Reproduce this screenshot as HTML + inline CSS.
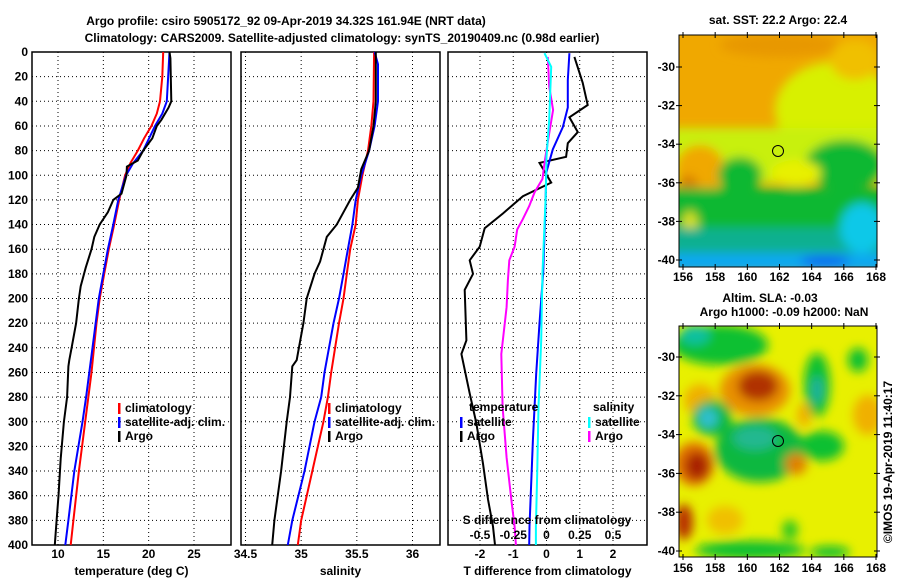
<!DOCTYPE html>
<html><head><meta charset="utf-8">
<style>
html,body{margin:0;padding:0;background:#fff;}
svg text{font-family:"Liberation Sans",sans-serif;font-weight:bold;font-size:12px;fill:#000;}
</style></head>
<body>
<svg id="chart" width="900" height="580" viewBox="0 0 900 580" xmlns="http://www.w3.org/2000/svg">
<defs>
<filter id="blur1" x="-20%" y="-20%" width="140%" height="140%"><feGaussianBlur stdDeviation="5"/></filter>
<filter id="blur2" x="-20%" y="-20%" width="140%" height="140%"><feGaussianBlur stdDeviation="5"/></filter>
<clipPath id="clipM1"><rect x="679" y="35" width="198" height="232"/></clipPath>
<clipPath id="clipM2"><rect x="679" y="326" width="198" height="231"/></clipPath>
</defs>
<text x="286" y="25" text-anchor="middle" font-size="13">Argo profile: csiro 5905172_92 09-Apr-2019 34.32S 161.94E (NRT data)</text>
<text x="342" y="42" text-anchor="middle" font-size="13">Climatology: CARS2009. Satellite-adjusted climatology: synTS_20190409.nc (0.98d earlier)</text>
<g id="plots"></g>
<g id="maps">
  <g clip-path="url(#clipM1)">
    <rect x="679" y="35" width="198" height="232" fill="#f0a800"/>
    <g filter="url(#blur1)">
      <ellipse cx="780" cy="45" rx="60" ry="12" fill="#e89800"/>
      <ellipse cx="835" cy="110" rx="60" ry="48" fill="#d8f000"/>
      <ellipse cx="855" cy="60" rx="25" ry="20" fill="#f0c000"/>
      <rect x="670" y="128" width="220" height="55" fill="#c8f010"/>
      <ellipse cx="700" cy="170" rx="25" ry="25" fill="#f0a800"/>
      <ellipse cx="688" cy="185" rx="10" ry="10" fill="#d88000"/>
      <ellipse cx="740" cy="175" rx="22" ry="18" fill="#10b830"/>
      <ellipse cx="845" cy="165" rx="40" ry="25" fill="#10b830"/>
      <rect x="670" y="188" width="220" height="45" fill="#10b830"/>
      <ellipse cx="796" cy="173" rx="25" ry="13" fill="#e8f000"/>
      <ellipse cx="690" cy="225" rx="8" ry="14" fill="#d8e020"/>
      <rect x="670" y="228" width="220" height="26" fill="#10b090"/>
      <ellipse cx="862" cy="228" rx="22" ry="25" fill="#10c8e8"/>
      <rect x="670" y="253" width="220" height="20" fill="#10a8f0"/>
      <ellipse cx="825" cy="261" rx="25" ry="5" fill="#1060f0"/>
    </g>
    <circle cx="778" cy="151" r="5.5" fill="none" stroke="#000" stroke-width="1"/>
  </g>
  <rect x="679" y="35" width="198" height="232" fill="none" stroke="#000"/>
  <text x="778" y="24" text-anchor="middle">sat. SST: 22.2 Argo: 22.4</text>
  <g clip-path="url(#clipM2)">
    <rect x="679" y="326" width="198" height="231" fill="#e8f000"/>
    <g filter="url(#blur2)">
      <ellipse cx="720" cy="345" rx="48" ry="20" fill="#10c030"/>
      <ellipse cx="695" cy="335" rx="15" ry="10" fill="#10c0a0"/>
      <ellipse cx="755" cy="390" rx="35" ry="26" fill="#e89000"/>
      <ellipse cx="758" cy="386" rx="20" ry="15" fill="#b03000"/>
      <ellipse cx="700" cy="400" rx="16" ry="16" fill="#f0b000"/>
      <ellipse cx="817" cy="385" rx="13" ry="32" fill="#10c030"/>
      <ellipse cx="817" cy="390" rx="6" ry="14" fill="#20b0a0"/>
      <ellipse cx="868" cy="415" rx="15" ry="20" fill="#f0b000"/>
      <ellipse cx="804" cy="415" rx="7" ry="12" fill="#f0b000"/>
      <ellipse cx="858" cy="360" rx="10" ry="12" fill="#10c030"/>
      <ellipse cx="760" cy="450" rx="45" ry="32" fill="#10b840"/>
      <ellipse cx="712" cy="418" rx="20" ry="18" fill="#10b840"/>
      <ellipse cx="708" cy="418" rx="10" ry="10" fill="#30c0d0"/>
      <ellipse cx="755" cy="438" rx="22" ry="12" fill="#20b890"/>
      <ellipse cx="694" cy="464" rx="20" ry="22" fill="#e07000"/>
      <ellipse cx="697" cy="466" rx="12" ry="14" fill="#a82000"/>
      <ellipse cx="822" cy="446" rx="22" ry="15" fill="#10c030"/>
      <ellipse cx="796" cy="464" rx="11" ry="11" fill="#e08000"/>
      <ellipse cx="684" cy="522" rx="9" ry="18" fill="#b83000"/>
      <ellipse cx="725" cy="520" rx="18" ry="14" fill="#f0c000"/>
      <ellipse cx="750" cy="550" rx="55" ry="9" fill="#10c030"/>
      <ellipse cx="830" cy="552" rx="20" ry="6" fill="#10c030"/>
      <ellipse cx="790" cy="530" rx="8" ry="10" fill="#30c820"/>
    </g>
    <circle cx="778" cy="441" r="5.5" fill="none" stroke="#000" stroke-width="1"/>
  </g>
  <rect x="679" y="326" width="198" height="231" fill="none" stroke="#000"/>
  <text x="770" y="302" text-anchor="middle">Altim. SLA: -0.03</text>
  <text x="784" y="316" text-anchor="middle">Argo h1000: -0.09 h2000: NaN</text>
  <text transform="translate(892,462) rotate(-90)" text-anchor="middle" font-weight="normal">©IMOS 19-Apr-2019 11:40:17</text>
</g>
</svg>
<script>
// ---------- data ----------
const depthTicks = [0,20,40,60,80,100,120,140,160,180,200,220,240,260,280,300,320,340,360,380,400];
const tempTicks = [10,15,20,25];
const salTicks = [34.5,35,35.5,36];
const salTickLabels = ['34.5','35','35.5','36'];
const tdiffTicks = [-2,-1,0,1,2];
const sdiffTicks = [-0.5,-0.25,0,0.25,0.5];
const sdiffTickLabels = ['-0.5','-0.25','0','0.25','0.5'];
const mapLonTicks = [156,158,160,162,164,166,168];
const mapLatTicks = [-30,-32,-34,-36,-38,-40];

const tempClimDepth = [0,20,40,50,60,70,80,90,100,120,140,160,180,200,220,260,300,340,380,400];
const tempClimVal   = [21.6,21.5,21.25,20.9,20.3,19.5,18.8,18.0,17.4,16.75,16.2,15.6,15.1,14.6,14.25,13.7,13.0,12.3,11.7,11.4];
const tempSatDepth = [0,40,50,60,80,90,100,120,140,160,180,200,240,280,300,340,380,400];
const tempSatVal   = [22.3,22.0,21.5,20.7,19.4,18.3,17.5,16.65,16.1,15.5,15.0,14.5,13.8,13.1,12.7,11.8,11.15,10.8];
const tempArgoDepth = [0,5,40,45,55,60,70,80,88,93,100,115,120,130,140,150,160,175,190,200,220,240,250,255,280,300,330,360,380,400];
const tempArgoVal   = [22.3,22.4,22.5,22.2,21.4,20.9,20.4,19.4,18.8,17.6,17.55,17.0,16.1,15.5,14.6,14.0,13.7,13.05,12.5,12.3,12.0,11.5,11.25,11.15,11.0,10.65,10.3,10.05,9.85,9.65];

const salClimDepth = [0,40,60,80,100,120,140,160,180,200,220,260,280,300,340,380,400];
const salClimVal   = [35.655,35.65,35.63,35.6,35.55,35.51,35.49,35.44,35.41,35.38,35.34,35.27,35.24,35.2,35.1,35.0,34.97];
const salSatDepth = [0,10,40,60,80,100,120,140,160,180,200,220,260,280,300,340,380,400];
const salSatVal   = [35.66,35.69,35.69,35.66,35.61,35.54,35.49,35.46,35.42,35.38,35.34,35.29,35.21,35.18,35.12,35.03,34.92,34.88];
const salArgoDepth = [0,40,60,80,95,110,120,130,140,150,170,180,200,220,240,250,255,280,300,340,380,400];
const salArgoVal   = [35.67,35.67,35.65,35.61,35.54,35.51,35.44,35.38,35.32,35.23,35.17,35.12,35.05,35.02,34.98,34.96,34.92,34.9,34.87,34.82,34.76,34.74];

const tdArgoDepth = [4,25,43,53,65,74,85,90,106,117,131,143,158,169,180,193,234,245,277,301,334,363,385,400];
const tdArgoVal   = [0.84,1.09,1.24,0.69,0.94,0.64,0.59,-0.21,0.14,-0.71,-1.31,-1.86,-2.01,-2.31,-2.21,-2.46,-2.41,-2.56,-2.31,-2.11,-1.91,-1.76,-1.61,-1.55];
const tdSatDepth = [1,23,45,61,79,98,125,179,220,261,315,385,400];
const tdSatVal   = [0.69,0.64,0.64,0.49,0.19,-0.01,-0.03,-0.1,-0.21,-0.31,-0.41,-0.51,-0.52];
const sdSatDepth = [1,12,55,85,115,179,234,288,342,385,400];
const sdSatVal   = [-0.015,0.035,0.02,0,-0.005,-0.03,-0.04,-0.06,-0.07,-0.08,-0.08];
const sdArgoDepth = [4,28,47,66,90,103,114,125,136,144,158,169,185,207,245,288,329,363,385,400];
const sdArgoVal   = [0.01,0.02,0.05,0.02,-0.015,-0.03,-0.09,-0.13,-0.18,-0.22,-0.24,-0.28,-0.29,-0.30,-0.34,-0.33,-0.30,-0.265,-0.24,-0.23];

// ---------- axis functions ----------
const NS='http://www.w3.org/2000/svg';
const Y0=52, Y1=545;
const yScale = d => Y0 + (d/400)*(Y1-Y0);
const lin = (v0,p0,v1,p1) => v => p0 + (v-v0)/(v1-v0)*(p1-p0);
const xTemp = lin(10,58,25,194);
const xSal  = lin(34.5,245.5,36,412.5);
const xTd   = lin(-2,480,2,613);
const xSd   = lin(-0.5,480,0.5,613);
const root = document.getElementById('plots');

function mk(tag, attrs, parent){
  const e=document.createElementNS(NS,tag);
  for(const k in attrs) e.setAttribute(k,attrs[k]);
  (parent||root).appendChild(e);
  return e;
}
function txt(x,y,s,anchor,parent){
  const t=mk('text',{x:x,y:y,'text-anchor':anchor||'middle'},parent);
  t.textContent=s; return t;
}
function panel(name,x0,x1,xs,xticks,xlabels,xtitle,leftLabels){
  const g=mk('g',{});
  
  
  depthTicks.forEach(d=>{
    if(d>0&&d<400){
      const l=mk('line',{x1:x0,x2:x1,y1:yScale(d),y2:yScale(d),stroke:'#000','stroke-dasharray':'1,3'},g);
      
      
    }
    if(leftLabels){
      const t=txt(28,yScale(d)+4,String(d),'end',g);
      
      
    }
  });
  xticks.forEach((v,i)=>{
    const l=mk('line',{x1:xs(v),x2:xs(v),y1:Y0,y2:Y1,stroke:'#000','stroke-dasharray':'1,3'},g);
    
    
    const t=txt(xs(v),558,xlabels[i],'middle',g);
    
    
  });
  const r=mk('rect',{x:x0,y:Y0,width:x1-x0,height:Y1-Y0,fill:'none',stroke:'#000','stroke-width':1.5},g);
  
  
  const tt=txt((x0+x1)/2,575,xtitle,'middle',g);
  
  
  return g;
}
function series(g,name,depths,vals,xs,color){
  const pts=depths.map((d,i)=>xs(vals[i]).toFixed(1)+','+yScale(d).toFixed(1)).join(' ');
  const p=mk('polyline',{points:pts,fill:'none',stroke:color,'stroke-width':2},g);
  
  
}
function legend(g,x,y,items){
  items.forEach((it,i)=>{
    const yy=y+i*14;
    const m=mk('rect',{x:x,y:yy-9,width:2.5,height:11,fill:it[1]},g);
    
    
    const t=txt(x+7,yy,it[0],'start',g);
    
    
  });
}

const g1=panel('temperature-panel',32,231,xTemp,tempTicks,tempTicks.map(String),'temperature (deg C)',true);
series(g1,'temp-climatology-line',tempClimDepth,tempClimVal,xTemp,'#ff0000');
series(g1,'temp-satellite-line',tempSatDepth,tempSatVal,xTemp,'#0000ff');
series(g1,'temp-argo-line',tempArgoDepth,tempArgoVal,xTemp,'#000');
legend(g1,118,412,[['climatology','#ff0000'],['satellite-adj. clim.','#0000ff'],['Argo','#000']]);

const g2=panel('salinity-panel',241,440,xSal,salTicks,salTickLabels,'salinity',false);
series(g2,'sal-climatology-line',salClimDepth,salClimVal,xSal,'#ff0000');
series(g2,'sal-satellite-line',salSatDepth,salSatVal,xSal,'#0000ff');
series(g2,'sal-argo-line',salArgoDepth,salArgoVal,xSal,'#000');
legend(g2,328,412,[['climatology','#ff0000'],['satellite-adj. clim.','#0000ff'],['Argo','#000']]);

const g3=panel('difference-panel',448,647,xTd,tdiffTicks,tdiffTicks.map(String),'T difference from climatology',false);
series(g3,'tdiff-argo-line',tdArgoDepth,tdArgoVal,xTd,'#000');
series(g3,'sdiff-argo-line',sdArgoDepth,sdArgoVal,xSd,'#ff00ff');
series(g3,'tdiff-satellite-line',tdSatDepth,tdSatVal,xTd,'#0000ff');
series(g3,'sdiff-satellite-line',sdSatDepth,sdSatVal,xSd,'#00ffff');
const lt=txt(469,411,'temperature','start',g3);


legend(g3,460,426,[['satellite','#0000ff'],['Argo','#000']]);
const ls=txt(593,411,'salinity','start',g3);


legend(g3,588,426,[['satellite','#00ffff'],['Argo','#ff00ff']]);
const st=txt(547,524,'S difference from climatology','middle',g3);


sdiffTicks.forEach((v,i)=>{
  const t=txt(xSd(v),539,sdiffTickLabels[i],'middle',g3);
  
  
});

// map axes
const mapsG=document.getElementById('maps');
const lonX = lin(156,683,168,876);
const lat1 = lin(-30,67,-40,260);
const lat2 = lin(-30,357,-40,551);
[[35,267,lat1,281],[326,557,lat2,572]].forEach(m=>{
  mapLonTicks.forEach(v=>{
    mk('line',{x1:lonX(v),x2:lonX(v),y1:m[0]-3,y2:m[0]+3,stroke:'#000'},mapsG);
    mk('line',{x1:lonX(v),x2:lonX(v),y1:m[1]-3,y2:m[1]+3,stroke:'#000'},mapsG);
    const t=txt(lonX(v),m[3],String(v),'middle',mapsG);
    
    
  });
  mapLatTicks.forEach(v=>{
    mk('line',{x1:676,x2:682,y1:m[2](v),y2:m[2](v),stroke:'#000'},mapsG);
    mk('line',{x1:874,x2:880,y1:m[2](v),y2:m[2](v),stroke:'#000'},mapsG);
    const t=txt(675,m[2](v)+4,String(v),'end',mapsG);
    
    
  });
});
</script>
</body></html>
